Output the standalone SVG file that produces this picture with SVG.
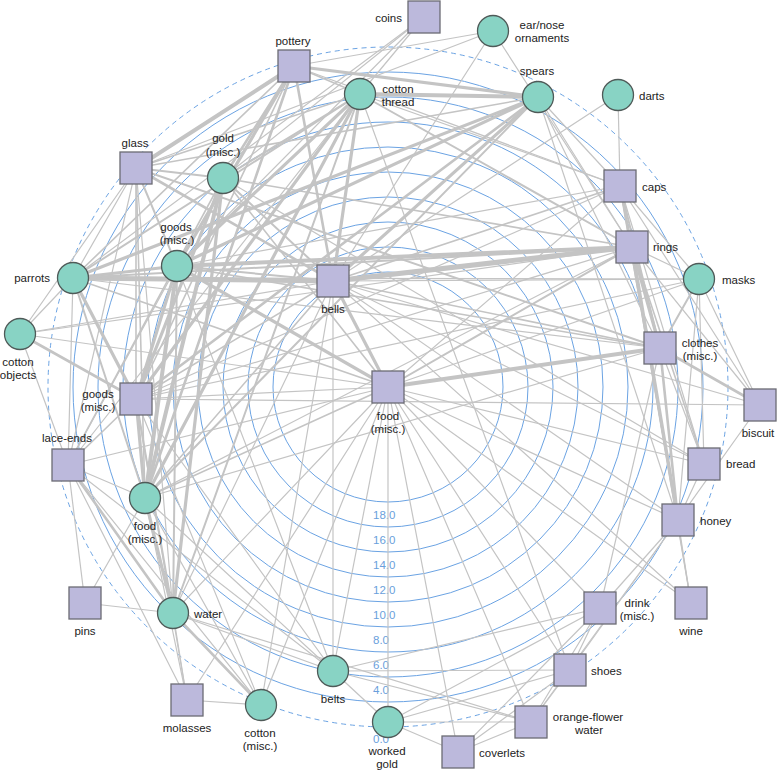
<svg xmlns="http://www.w3.org/2000/svg" width="777" height="770" viewBox="0 0 777 770">
<style>
.ring{fill:none;stroke:#6ba3e3;stroke-width:1}
.dash{fill:none;stroke:#6ba3e3;stroke-width:1;stroke-dasharray:5,4}
.sc{font-family:"Liberation Sans",Arial,sans-serif;font-size:11.5px;fill:#6a9fdc}
#edges line{stroke:#c4c4c4;stroke-width:1.2;stroke-linecap:round}
#edges line.w15{stroke-width:1.6}
#edges line.w2{stroke-width:2}
#edges line.w25{stroke-width:2.6}
#edges line.w3{stroke-width:3.2}
#edges line.w4{stroke-width:4}
#edges line.w5{stroke-width:5}
.sq{fill:#bcb9dc;stroke:#6b6b73;stroke-width:1.3}
.ci{fill:#88d3c4;stroke:#4f5a58;stroke-width:1.3}
.lb{font-family:"Liberation Sans",Arial,sans-serif;font-size:11.5px;fill:#222}
.m{text-anchor:middle}
.e{text-anchor:end}
</style>
<rect width="777" height="770" fill="#fff"/>
<g id="scale">
<circle class="ring" cx="388" cy="387" r="115"/>
<circle class="ring" cx="388" cy="387" r="140"/>
<circle class="ring" cx="388" cy="387" r="165"/>
<circle class="ring" cx="388" cy="387" r="190"/>
<circle class="ring" cx="388" cy="387" r="215"/>
<circle class="ring" cx="388" cy="387" r="240"/>
<circle class="ring" cx="388" cy="387" r="265"/>
<circle class="ring" cx="388" cy="387" r="290"/>
<circle class="ring" cx="388" cy="387" r="315"/>
<circle class="dash" cx="388" cy="387" r="340"/>
<text class="sc" x="373" y="519">18.0</text>
<text class="sc" x="373" y="544">16.0</text>
<text class="sc" x="373" y="569">14.0</text>
<text class="sc" x="373" y="594">12.0</text>
<text class="sc" x="373" y="619">10.0</text>
<text class="sc" x="373" y="644">8.0</text>
<text class="sc" x="373" y="669">6.0</text>
<text class="sc" x="373" y="694">4.0</text>
<text class="sc" x="373" y="743">0.0</text>
</g>
<g id="edges">
<line x1="424" y1="17" x2="360" y2="94"/>
<line x1="424" y1="17" x2="177" y2="266"/>
<line x1="424" y1="17" x2="223" y2="178"/>
<line x1="424" y1="17" x2="73" y2="278"/>
<line x1="493" y1="31" x2="294" y2="66"/>
<line x1="493" y1="31" x2="136" y2="168"/>
<line x1="493" y1="31" x2="333" y2="281"/>
<line x1="493" y1="31" x2="632" y2="247"/>
<line class="w4" x1="294" y1="66" x2="136" y2="168"/>
<line class="w3" x1="294" y1="66" x2="538" y2="97"/>
<line class="w15" x1="294" y1="66" x2="360" y2="94"/>
<line class="w25" x1="294" y1="66" x2="223" y2="178"/>
<line class="w3" x1="294" y1="66" x2="177" y2="266"/>
<line class="w25" x1="294" y1="66" x2="145" y2="498"/>
<line class="w25" x1="294" y1="66" x2="333" y2="281"/>
<line class="w15" x1="294" y1="66" x2="73" y2="278"/>
<line x1="294" y1="66" x2="620" y2="186"/>
<line class="w15" x1="294" y1="66" x2="136" y2="399"/>
<line class="w4" x1="360" y1="94" x2="538" y2="97"/>
<line x1="360" y1="94" x2="620" y2="186"/>
<line class="w15" x1="360" y1="94" x2="136" y2="168"/>
<line class="w2" x1="360" y1="94" x2="223" y2="178"/>
<line class="w3" x1="360" y1="94" x2="177" y2="266"/>
<line class="w3" x1="360" y1="94" x2="136" y2="399"/>
<line class="w3" x1="360" y1="94" x2="145" y2="498"/>
<line class="w3" x1="360" y1="94" x2="333" y2="281"/>
<line class="w2" x1="360" y1="94" x2="632" y2="247"/>
<line class="w2" x1="360" y1="94" x2="173" y2="613"/>
<line class="w2" x1="360" y1="94" x2="73" y2="278"/>
<line x1="360" y1="94" x2="68" y2="465"/>
<line x1="360" y1="94" x2="570" y2="670"/>
<line class="w15" x1="538" y1="97" x2="136" y2="168"/>
<line class="w3" x1="538" y1="97" x2="73" y2="278"/>
<line class="w3" x1="538" y1="97" x2="177" y2="266"/>
<line class="w25" x1="538" y1="97" x2="136" y2="399"/>
<line class="w3" x1="538" y1="97" x2="333" y2="281"/>
<line class="w2" x1="538" y1="97" x2="145" y2="498"/>
<line x1="538" y1="97" x2="620" y2="186"/>
<line x1="538" y1="97" x2="632" y2="247"/>
<line x1="538" y1="97" x2="660" y2="348"/>
<line x1="538" y1="97" x2="678" y2="520"/>
<line x1="618" y1="95" x2="620" y2="186"/>
<line x1="618" y1="95" x2="333" y2="281"/>
<line class="w2" x1="136" y1="168" x2="223" y2="178"/>
<line class="w2" x1="136" y1="168" x2="177" y2="266"/>
<line class="w15" x1="136" y1="168" x2="136" y2="399"/>
<line x1="136" y1="168" x2="73" y2="278"/>
<line x1="136" y1="168" x2="20" y2="334"/>
<line x1="136" y1="168" x2="68" y2="465"/>
<line class="w25" x1="136" y1="168" x2="333" y2="281"/>
<line class="w2" x1="136" y1="168" x2="660" y2="348"/>
<line class="w15" x1="136" y1="168" x2="145" y2="498"/>
<line x1="136" y1="168" x2="173" y2="613"/>
<line class="w4" x1="223" y1="178" x2="145" y2="498"/>
<line class="w3" x1="223" y1="178" x2="136" y2="399"/>
<line class="w3" x1="223" y1="178" x2="173" y2="613"/>
<line class="w15" x1="223" y1="178" x2="68" y2="465"/>
<line class="w2" x1="223" y1="178" x2="333" y2="281"/>
<line class="w15" x1="223" y1="178" x2="388" y2="387"/>
<line class="w15" x1="223" y1="178" x2="632" y2="247"/>
<line x1="223" y1="178" x2="704" y2="464"/>
<line class="w4" x1="177" y1="266" x2="632" y2="247"/>
<line class="w2" x1="177" y1="266" x2="333" y2="281"/>
<line class="w4" x1="177" y1="266" x2="145" y2="498"/>
<line class="w3" x1="177" y1="266" x2="136" y2="399"/>
<line class="w3" x1="177" y1="266" x2="388" y2="387"/>
<line class="w15" x1="177" y1="266" x2="660" y2="348"/>
<line x1="177" y1="266" x2="620" y2="186"/>
<line class="w2" x1="177" y1="266" x2="173" y2="613"/>
<line x1="177" y1="266" x2="68" y2="465"/>
<line class="w3" x1="177" y1="266" x2="73" y2="278"/>
<line x1="177" y1="266" x2="333" y2="671"/>
<line class="w5" x1="73" y1="278" x2="333" y2="281"/>
<line class="w3" x1="73" y1="278" x2="136" y2="399"/>
<line class="w2" x1="73" y1="278" x2="145" y2="498"/>
<line x1="73" y1="278" x2="20" y2="334"/>
<line x1="73" y1="278" x2="68" y2="465"/>
<line class="w2" x1="73" y1="278" x2="632" y2="247"/>
<line x1="73" y1="278" x2="699" y2="279"/>
<line x1="73" y1="278" x2="660" y2="348"/>
<line class="w15" x1="73" y1="278" x2="388" y2="387"/>
<line class="w25" x1="20" y1="334" x2="136" y2="399"/>
<line x1="20" y1="334" x2="68" y2="465"/>
<line x1="20" y1="334" x2="333" y2="281"/>
<line x1="20" y1="334" x2="632" y2="247"/>
<line x1="20" y1="334" x2="388" y2="387"/>
<line x1="68" y1="465" x2="145" y2="498"/>
<line class="w15" x1="68" y1="465" x2="136" y2="399"/>
<line class="w25" x1="68" y1="465" x2="173" y2="613"/>
<line x1="68" y1="465" x2="388" y2="387"/>
<line x1="68" y1="465" x2="85" y2="603"/>
<line x1="68" y1="465" x2="261" y2="705"/>
<line x1="68" y1="465" x2="187" y2="700"/>
<line x1="68" y1="465" x2="333" y2="671"/>
<line class="w3" x1="136" y1="399" x2="145" y2="498"/>
<line x1="136" y1="399" x2="388" y2="387"/>
<line x1="136" y1="399" x2="632" y2="247"/>
<line class="w15" x1="136" y1="399" x2="333" y2="281"/>
<line class="w2" x1="136" y1="399" x2="173" y2="613"/>
<line x1="136" y1="399" x2="187" y2="700"/>
<line x1="136" y1="399" x2="261" y2="705"/>
<line x1="136" y1="399" x2="333" y2="671"/>
<line x1="136" y1="399" x2="760" y2="405"/>
<line x1="136" y1="399" x2="620" y2="186"/>
<line x1="136" y1="399" x2="699" y2="279"/>
<line class="w3" x1="145" y1="498" x2="173" y2="613"/>
<line class="w15" x1="145" y1="498" x2="388" y2="387"/>
<line class="w15" x1="145" y1="498" x2="333" y2="281"/>
<line x1="145" y1="498" x2="85" y2="603"/>
<line x1="145" y1="498" x2="187" y2="700"/>
<line x1="145" y1="498" x2="261" y2="705"/>
<line x1="145" y1="498" x2="333" y2="671"/>
<line x1="145" y1="498" x2="632" y2="247"/>
<line x1="145" y1="498" x2="660" y2="348"/>
<line x1="85" y1="603" x2="173" y2="613"/>
<line class="w25" x1="173" y1="613" x2="261" y2="705"/>
<line x1="173" y1="613" x2="187" y2="700"/>
<line x1="173" y1="613" x2="388" y2="387"/>
<line x1="173" y1="613" x2="333" y2="671"/>
<line x1="173" y1="613" x2="531" y2="722"/>
<line x1="173" y1="613" x2="333" y2="281"/>
<line x1="187" y1="700" x2="261" y2="705"/>
<line x1="187" y1="700" x2="388" y2="387"/>
<line x1="261" y1="705" x2="388" y2="387"/>
<line x1="261" y1="705" x2="333" y2="281"/>
<line x1="333" y1="671" x2="570" y2="670"/>
<line x1="333" y1="671" x2="600" y2="608"/>
<line x1="333" y1="671" x2="531" y2="722"/>
<line x1="333" y1="671" x2="388" y2="722"/>
<line x1="333" y1="671" x2="388" y2="387"/>
<line x1="333" y1="671" x2="333" y2="281"/>
<line x1="388" y1="722" x2="531" y2="722"/>
<line x1="388" y1="722" x2="570" y2="670"/>
<line x1="388" y1="722" x2="600" y2="608"/>
<line x1="388" y1="722" x2="458" y2="752"/>
<line x1="388" y1="722" x2="388" y2="387"/>
<line x1="388" y1="387" x2="458" y2="752"/>
<line x1="388" y1="387" x2="531" y2="722"/>
<line x1="388" y1="387" x2="570" y2="670"/>
<line x1="388" y1="387" x2="600" y2="608"/>
<line x1="388" y1="387" x2="691" y2="603"/>
<line x1="388" y1="387" x2="678" y2="520"/>
<line x1="388" y1="387" x2="704" y2="464"/>
<line class="w2" x1="388" y1="387" x2="632" y2="247"/>
<line class="w4" x1="388" y1="387" x2="660" y2="348"/>
<line class="w3" x1="388" y1="387" x2="333" y2="281"/>
<line x1="388" y1="387" x2="699" y2="279"/>
<line x1="388" y1="387" x2="620" y2="186"/>
<line class="w5" x1="333" y1="281" x2="632" y2="247"/>
<line class="w15" x1="333" y1="281" x2="660" y2="348"/>
<line class="w15" x1="333" y1="281" x2="620" y2="186"/>
<line x1="333" y1="281" x2="699" y2="279"/>
<line x1="333" y1="281" x2="704" y2="464"/>
<line x1="333" y1="281" x2="691" y2="603"/>
<line x1="333" y1="281" x2="760" y2="405"/>
<line x1="333" y1="281" x2="678" y2="520"/>
<line class="w3" x1="632" y1="247" x2="660" y2="348"/>
<line class="w3" x1="632" y1="247" x2="678" y2="520"/>
<line class="w2" x1="632" y1="247" x2="620" y2="186"/>
<line x1="632" y1="247" x2="699" y2="279"/>
<line x1="632" y1="247" x2="691" y2="603"/>
<line class="w15" x1="632" y1="247" x2="704" y2="464"/>
<line x1="632" y1="247" x2="760" y2="405"/>
<line class="w2" x1="620" y1="186" x2="660" y2="348"/>
<line class="w2" x1="620" y1="186" x2="678" y2="520"/>
<line x1="620" y1="186" x2="699" y2="279"/>
<line x1="620" y1="186" x2="760" y2="405"/>
<line x1="620" y1="186" x2="691" y2="603"/>
<line x1="620" y1="186" x2="704" y2="464"/>
<line class="w25" x1="660" y1="348" x2="678" y2="520"/>
<line class="w25" x1="660" y1="348" x2="760" y2="405"/>
<line class="w2" x1="660" y1="348" x2="699" y2="279"/>
<line x1="660" y1="348" x2="704" y2="464"/>
<line x1="660" y1="348" x2="600" y2="608"/>
<line x1="699" y1="279" x2="704" y2="464"/>
<line x1="699" y1="279" x2="760" y2="405"/>
<line x1="699" y1="279" x2="678" y2="520"/>
<line x1="678" y1="520" x2="691" y2="603"/>
<line x1="678" y1="520" x2="600" y2="608"/>
<line x1="678" y1="520" x2="570" y2="670"/>
<line x1="678" y1="520" x2="531" y2="722"/>
<line x1="678" y1="520" x2="704" y2="464"/>
<line x1="678" y1="520" x2="760" y2="405"/>
<line x1="600" y1="608" x2="570" y2="670"/>
<line x1="600" y1="608" x2="531" y2="722"/>
<line x1="600" y1="608" x2="458" y2="752"/>
<line x1="570" y1="670" x2="531" y2="722"/>
<line x1="570" y1="670" x2="458" y2="752"/>
<line x1="531" y1="722" x2="458" y2="752"/>
</g>
<g id="n-coins"><rect class="sq" x="408" y="1" width="32" height="32"/><text class="lb e" x="402" y="22">coins</text></g>
<g id="n-ear"><circle class="ci" cx="493" cy="31" r="15.5"/><text class="lb m" x="542" y="29">ear/nose<tspan x="542" dy="13">ornaments</tspan></text></g>
<g id="n-pottery"><rect class="sq" x="278" y="50" width="32" height="32"/><text class="lb m" x="293" y="45">pottery</text></g>
<g id="n-cth"><circle class="ci" cx="360" cy="94" r="15.5"/><text class="lb m" x="398" y="93">cotton<tspan x="398" dy="13">thread</tspan></text></g>
<g id="n-spears"><circle class="ci" cx="538" cy="97" r="15.5"/><text class="lb m" x="537" y="75">spears</text></g>
<g id="n-darts"><circle class="ci" cx="618" cy="95" r="15.5"/><text class="lb" x="639" y="100">darts</text></g>
<g id="n-glass"><rect class="sq" x="120" y="152" width="32" height="32"/><text class="lb m" x="135" y="147">glass</text></g>
<g id="n-gold"><circle class="ci" cx="223" cy="178" r="15.5"/><text class="lb m" x="223" y="142">gold<tspan x="223" dy="13.5">(misc.)</tspan></text></g>
<g id="n-caps"><rect class="sq" x="604" y="170" width="32" height="32"/><text class="lb" x="642" y="191">caps</text></g>
<g id="n-rings"><rect class="sq" x="616" y="231" width="32" height="32"/><text class="lb" x="653" y="251">rings</text></g>
<g id="n-goodsC"><circle class="ci" cx="177" cy="266" r="15.5"/><text class="lb m" x="176" y="231">goods<tspan x="177" dy="13">(misc.)</tspan></text></g>
<g id="n-parrots"><circle class="ci" cx="73" cy="278" r="15.5"/><text class="lb e" x="50" y="282">parrots</text></g>
<g id="n-bells"><rect class="sq" x="317" y="265" width="32" height="32"/><text class="lb m" x="333" y="313">bells</text></g>
<g id="n-masks"><circle class="ci" cx="699" cy="279" r="15.5"/><text class="lb" x="722" y="284">masks</text></g>
<g id="n-cobj"><circle class="ci" cx="20" cy="334" r="15.5"/><text class="lb m" x="18" y="366">cotton<tspan x="18" dy="13">objects</tspan></text></g>
<g id="n-clothes"><rect class="sq" x="644" y="332" width="32" height="32"/><text class="lb m" x="700" y="347">clothes<tspan x="700" dy="13">(misc.)</tspan></text></g>
<g id="n-foodS"><rect class="sq" x="372" y="371" width="32" height="32"/><text class="lb m" x="388" y="420">food<tspan x="388" dy="13">(misc.)</tspan></text></g>
<g id="n-goodsS"><rect class="sq" x="120" y="383" width="32" height="32"/><text class="lb m" x="98" y="398">goods<tspan x="98" dy="13">(misc.)</tspan></text></g>
<g id="n-biscuit"><rect class="sq" x="744" y="389" width="32" height="32"/><text class="lb m" x="758" y="437">biscuit</text></g>
<g id="n-lace"><rect class="sq" x="52" y="449" width="32" height="32"/><text class="lb m" x="67" y="442">lace-ends</text></g>
<g id="n-bread"><rect class="sq" x="688" y="448" width="32" height="32"/><text class="lb" x="726" y="468">bread</text></g>
<g id="n-foodC"><circle class="ci" cx="145" cy="498" r="15.5"/><text class="lb m" x="145" y="530">food<tspan x="145" dy="13">(misc.)</tspan></text></g>
<g id="n-honey"><rect class="sq" x="662" y="504" width="32" height="32"/><text class="lb" x="700" y="525">honey</text></g>
<g id="n-wine"><rect class="sq" x="675" y="587" width="32" height="32"/><text class="lb m" x="691" y="635">wine</text></g>
<g id="n-drink"><rect class="sq" x="584" y="592" width="32" height="32"/><text class="lb m" x="637" y="607">drink<tspan x="637" dy="13">(misc.)</tspan></text></g>
<g id="n-pins"><rect class="sq" x="69" y="587" width="32" height="32"/><text class="lb m" x="85" y="635">pins</text></g>
<g id="n-water"><circle class="ci" cx="173" cy="613" r="15.5"/><text class="lb" x="194" y="618">water</text></g>
<g id="n-shoes"><rect class="sq" x="554" y="654" width="32" height="32"/><text class="lb" x="591" y="675">shoes</text></g>
<g id="n-belts"><circle class="ci" cx="333" cy="671" r="15.5"/><text class="lb m" x="333" y="703">belts</text></g>
<g id="n-molasses"><rect class="sq" x="171" y="684" width="32" height="32"/><text class="lb m" x="187" y="732">molasses</text></g>
<g id="n-cottonM"><circle class="ci" cx="261" cy="705" r="15.5"/><text class="lb m" x="260" y="737">cotton<tspan x="260" dy="13">(misc.)</tspan></text></g>
<g id="n-ofw"><rect class="sq" x="515" y="706" width="32" height="32"/><text class="lb m" x="588" y="721">orange-flower<tspan x="589" dy="13">water</tspan></text></g>
<g id="n-wgold"><circle class="ci" cx="388" cy="722" r="15.5"/><text class="lb m" x="387" y="755">worked<tspan x="387" dy="13">gold</tspan></text></g>
<g id="n-coverlets"><rect class="sq" x="442" y="736" width="32" height="32"/><text class="lb" x="479" y="757">coverlets</text></g>
</svg>
